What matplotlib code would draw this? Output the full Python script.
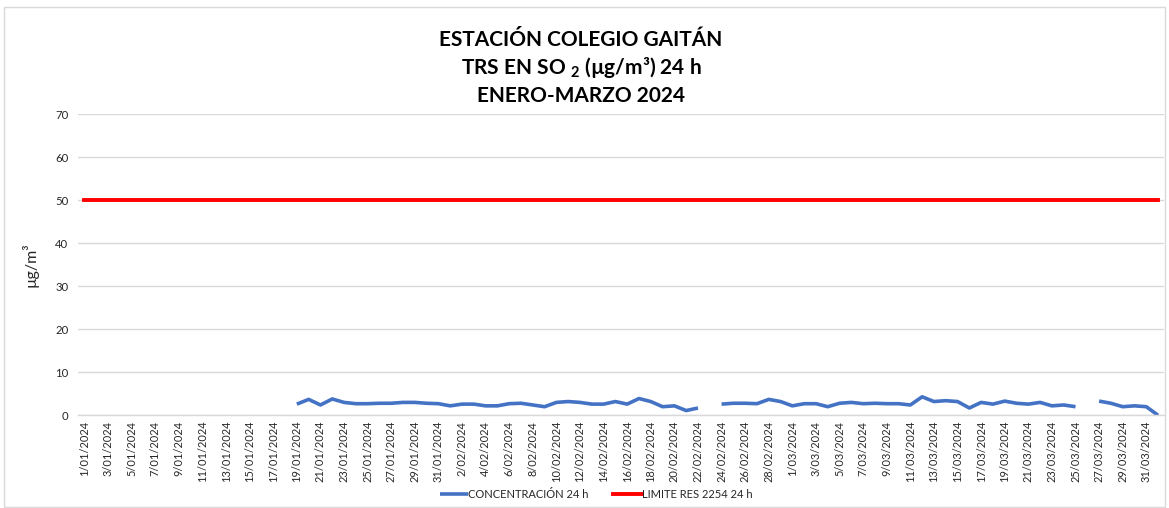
import numpy as np
import pandas as pd
import matplotlib
matplotlib.use("Agg")
import matplotlib.pyplot as plt
from matplotlib.patches import Rectangle

# ---- data ----
dates = pd.date_range("2024-01-01", "2024-04-01", freq="D")
date_labels = [f"{d.day}/{d.month:02d}/{d.year}" for d in dates]

nan = np.nan
concentracion = (
    [nan] * 18
    + [2.6, 3.7, 2.4, 3.8, 3.0, 2.7, 2.7, 2.8, 2.8, 3.0, 3.0, 2.8, 2.7, 2.2,
       2.6, 2.6, 2.2, 2.2, 2.7, 2.8, 2.4, 2.0, 3.0, 3.2, 3.0, 2.6, 2.6, 3.2,
       2.6, 3.9, 3.2, 2.0, 2.2, 1.1, 1.7]
    + [nan]
    + [2.6, 2.8, 2.8, 2.7, 3.7, 3.2, 2.2, 2.7, 2.7, 2.0, 2.8, 3.0, 2.7, 2.8,
       2.7, 2.7, 2.4, 4.3, 3.2, 3.4, 3.2, 1.7, 3.0, 2.6, 3.3, 2.8, 2.6, 3.0,
       2.2, 2.4, 2.0]
    + [nan]
    + [3.3, 2.8, 2.0, 2.2, 2.0, 0.0]
)
limite = [50] * len(dates)

series_names = ["CONCENTRACIÓN 24 h", "LIMITE RES 2254 24 h"]
title_lines = ["ESTACIÓN COLEGIO GAITÁN",
               r"TRS EN SO $_{\mathregular{2}}$ (µg/m³) 24 h",
               "ENERO-MARZO 2024"]
y_label = "µg/m³"

# ---- figure ----
plt.rcParams['font.family'] = ['Lato', 'DejaVu Sans']
plt.rcParams['mathtext.default'] = 'regular'

W, H = 1169, 508
fig = plt.figure(figsize=(W / 100, H / 100), dpi=100)
fig.patch.set_facecolor("white")
fig.patches.append(Rectangle((4 / W, 1 / H), (W - 8) / W, (H - 8) / H,
                             transform=fig.transFigure, fill=False,
                             edgecolor="#D9D9D9", linewidth=1))

ax = fig.add_axes([78 / W, 1 - 415.3 / H, (1164 - 78) / W, (415.3 - 114.3) / H])
x = np.arange(len(dates))
ax.plot(x, concentracion, color="#4472C4", linewidth=2.6, label=series_names[0],
        solid_capstyle="butt", solid_joinstyle="round")
ax.plot(x, limite, color="#FF0000", linewidth=2.8, label=series_names[1])

ax.set_xlim(-0.55, len(dates) - 0.5)
ax.set_ylim(0, 70)
ax.set_yticks(range(0, 71, 10))
ax.grid(axis="y", color="#D9D9D9", linewidth=1)
ax.set_axisbelow(True)
for s in ["top", "right", "left"]:
    ax.spines[s].set_visible(False)
ax.spines["bottom"].set_color("#D9D9D9")
ax.spines["bottom"].set_linewidth(1)

ax.set_xticks(x[::2])
ax.set_xticklabels(date_labels[::2], rotation=90, fontsize=7.9, color="#262626")
ax.tick_params(axis="x", length=0, pad=4)
ax.tick_params(axis="y", length=0, labelsize=8.2, labelcolor="#262626", pad=7)
ax.set_ylabel(y_label, fontsize=11.5, color="#262626", labelpad=12)

for i, yy in enumerate([40, 68, 96]):
    fig.text(0.497, 1 - yy / H, title_lines[i], ha="center", va="center",
             fontsize=15, fontweight="bold")

fig.legend(loc="center", bbox_to_anchor=(0.51, 1 - 494 / H), ncol=2,
           frameon=False, fontsize=8, handlelength=2.6, columnspacing=2.2,
           handletextpad=0.0, labelcolor="#262626")

fig.savefig("out.png", dpi=100, facecolor="white")
